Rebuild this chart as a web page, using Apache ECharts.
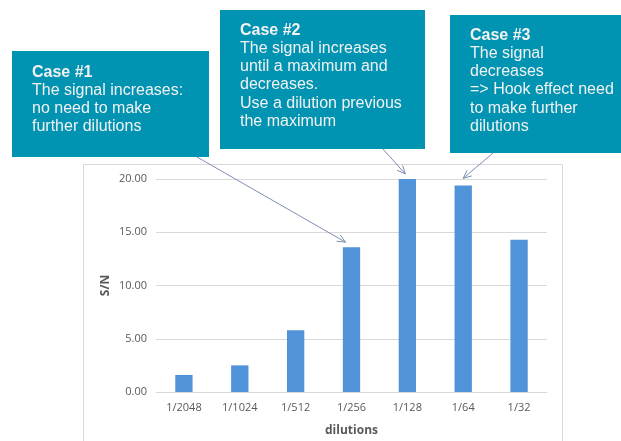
<!DOCTYPE html>
<html>
<head>
<meta charset="utf-8">
<script src="https://cdn.jsdelivr.net/npm/echarts@6/dist/echarts.min.js"></script>
<style>
html,body{margin:0;padding:0;background:#fff;}
#c{width:621px;height:441px;}
</style>
</head>
<body>
<div id="c"></div>
<script>
const categories = ['1/2048', '1/1024', '1/512', '1/256', '1/128', '1/64', '1/32'];
const snValues = [1.6, 2.5, 5.8, 13.6, 20.0, 19.4, 14.3];
const yTicks = [0, 5, 10, 15, 20];

const caseTitles = ['Case #1', 'Case #2', 'Case #3'];
const caseTexts = [
  ['The signal increases:', 'no need to make', 'further dilutions'],
  ['The signal increases', 'until a maximum and', 'decreases.', 'Use a dilution previous', 'the maximum'],
  ['The signal', 'decreases', '=> Hook effect need', 'to make further', 'dilutions']
];
const caseTargets = ['1/256', '1/128', '1/64'];

const chart = echarts.init(document.getElementById('c'), null, {renderer: 'canvas'});
const labelFont = '"Open Sans", "DejaVu Sans", sans-serif';
const boxFont = '"Liberation Sans", Arial, sans-serif';

const option = {
  backgroundColor: '#ffffff',
  animation: false,
  grid: {left: 156, right: 74, top: 179, bottom: 49},
  xAxis: {
    type: 'category',
    data: categories,
    name: 'dilutions',
    nameLocation: 'middle',
    nameGap: 33,
    nameMoveOverlap: false,
    nameTextStyle: {fontFamily: labelFont, fontSize: 12, fontWeight: 'bold', color: '#595959'},
    axisLine: {lineStyle: {color: '#d9d9d9'}},
    axisTick: {show: false},
    axisLabel: {fontFamily: labelFont, fontSize: 11, color: '#595959', margin: 10}
  },
  yAxis: {
    type: 'value',
    min: yTicks[0],
    max: yTicks[yTicks.length - 1],
    interval: 5,
    name: 'S/N',
    nameLocation: 'middle',
    nameGap: 50,
    nameMoveOverlap: false,
    nameRotate: 90,
    nameTextStyle: {fontFamily: labelFont, fontSize: 12, fontWeight: 'bold', color: '#595959',
      align: 'center', verticalAlign: 'middle'},
    axisLine: {show: false},
    axisTick: {show: false},
    axisLabel: {fontFamily: labelFont, fontSize: 11, color: '#595959', margin: 9,
      formatter: v => v.toFixed(2)},
    splitLine: {lineStyle: {color: '#d9d9d9'}}
  },
  series: [{
    type: 'bar',
    data: snValues,
    barWidth: '31%',
    itemStyle: {color: '#5193d8'}
  }]
};
chart.setOption(option);

// Annotation boxes (static layout)
const boxes = [
  {x: 12, y: 51, w: 197, h: 106, tx: 32, ty: 63, sx: 197, sy: 157, off: [-6, -5]},
  {x: 220, y: 10, w: 205, h: 139, tx: 240, ty: 21, sx: 383, sy: 149, off: [-2, -5]},
  {x: 450, y: 15, w: 175, h: 138, tx: 470, ty: 26, sx: 493, sy: 153, off: [0, -7]}
];

const graphics = [];
// chart frame
graphics.push({
  type: 'rect', z: -10, silent: true,
  shape: {x: 83.5, y: 164.5, width: 479, height: 290},
  style: {fill: '#ffffff', stroke: '#d9d9d9', lineWidth: 1}
});

boxes.forEach((b, i) => {
  graphics.push({
    type: 'rect', z: 10,
    shape: {x: b.x, y: b.y, width: b.w, height: b.h},
    style: {fill: '#0093b2'}
  });
  const txt = '{t|' + caseTitles[i] + '}\n' + caseTexts[i].map(s => '{n|' + s + '}').join('\n');
  graphics.push({
    type: 'text', z: 11, x: b.tx, y: b.ty,
    style: {
      text: txt,
      fill: '#f2f2f2',
      verticalAlign: 'top',
      align: 'left',
      rich: {
        t: {fontFamily: boxFont, fontSize: 16, fontWeight: 'bold', lineHeight: 18.3, fill: '#f2f2f2'},
        n: {fontFamily: boxFont, fontSize: 16, lineHeight: 18.3, fill: '#f2f2f2'}
      }
    }
  });
  // arrow pointing at bar top, computed from data
  const idx = categories.indexOf(caseTargets[i]);
  const p = chart.convertToPixel({seriesIndex: 0}, [idx, snValues[idx]]);
  const ex = p[0] + b.off[0], ey = p[1] + b.off[1];
  const ang = Math.atan2(ey - b.sy, ex - b.sx);
  const L = 9, A = 0.42;
  graphics.push({
    type: 'line', z: 5,
    shape: {x1: b.sx, y1: b.sy, x2: ex, y2: ey},
    style: {stroke: '#7f8eb3', lineWidth: 1}
  });
  graphics.push({
    type: 'polyline', z: 5,
    shape: {points: [
      [ex - L * Math.cos(ang - A), ey - L * Math.sin(ang - A)],
      [ex, ey],
      [ex - L * Math.cos(ang + A), ey - L * Math.sin(ang + A)]
    ]},
    style: {stroke: '#7f8eb3', lineWidth: 1, fill: null}
  });
});

chart.setOption({graphic: graphics});
</script>
</body>
</html>
